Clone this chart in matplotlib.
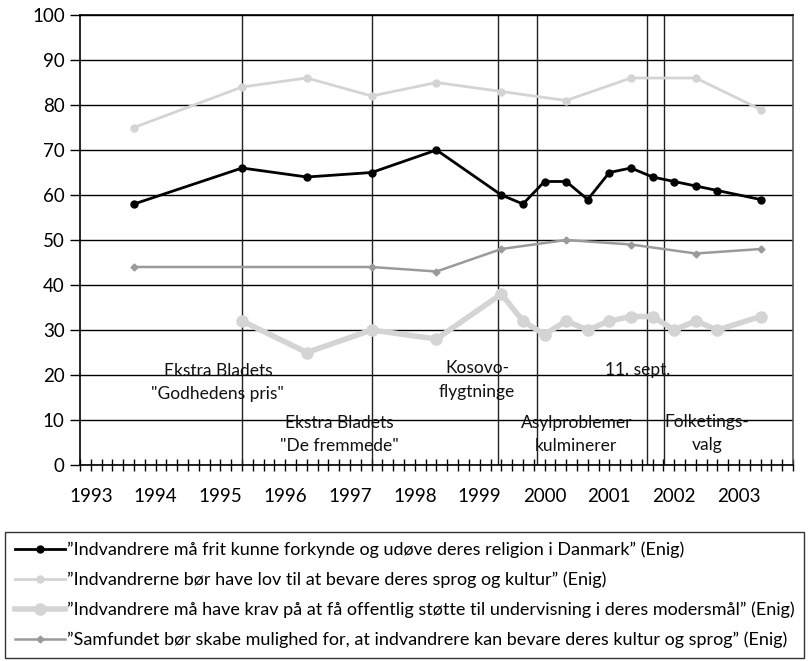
import matplotlib
matplotlib.use("Agg")
import matplotlib.pyplot as plt
from matplotlib import font_manager as fm
import numpy as np

# ---------------- data ----------------
# x positions are given in thirds of a year after 1993 (4-month periods)
rel_k = [2, 7, 10, 13, 16, 19, 20, 21, 22, 23, 24, 25, 26, 27, 28, 29, 31]
rel_v = [58, 66, 64, 65, 70, 60, 58, 63, 63, 59, 65, 66, 64, 63, 62, 61, 59]

sprog_k = [2, 7, 10, 13, 16, 19, 22, 25, 28, 31]
sprog_v = [75, 84, 86, 82, 85, 83, 81, 86, 86, 79]

moders_k = [7, 10, 13, 16, 19, 20, 21, 22, 23, 24, 25, 26, 27, 28, 29, 31]
moders_v = [32, 25, 30, 28, 38, 32, 29, 32, 30, 32, 33, 33, 30, 32, 30, 33]

samf_k = [2, 13, 16, 19, 22, 25, 28, 31]
samf_v = [44, 44, 43, 48, 50, 49, 47, 48]

labels = [
    "”Indvandrere må frit kunne forkynde og udøve deres religion i Danmark” (Enig)",
    "”Indvandrerne bør have lov til at bevare deres sprog og kultur” (Enig)",
    "”Indvandrere må have krav på at få offentlig støtte til undervisning i deres modersmål” (Enig)",
    "”Samfundet bør skabe mulighed for, at indvandrere kan bevare deres kultur og sprog” (Enig)",
]

events = [1995.333, 1997.333, 1999.28, 1999.89, 2001.58, 2001.84]
event_texts = ['Ekstra Bladets\n"Godhedens pris"', 'Ekstra Bladets\n"De fremmede"',
               'Kosovo-\nflygtninge', 'Asylproblemer\nkulminerer', '11. sept.',
               'Folketings-\nvalg']
event_text_x = [1994.96, 1996.84, 1998.96, 2000.49, 2001.44, 2002.51]
event_text_y = [18.4, 6.8, 18.9, 6.8, 21.0, 7.0]

years = list(range(1993, 2004))

def kx(ks):
    return [1993 + k / 3 for k in ks]

# ---------------- fonts ----------------
avail = {f.name for f in fm.fontManager.ttflist}
main_font = "Lato" if "Lato" in avail else "DejaVu Sans"
plt.rcParams['font.family'] = [main_font, 'DejaVu Sans']

fig = plt.figure(figsize=(8.11, 6.61), dpi=100)
ax = fig.add_axes([80 / 811, 1 - 465 / 661, (793 - 80) / 811, (465 - 15) / 661])

xmin = 1993 - 1 / 6
xmax = 1993 + 65 / 6
ax.set_xlim(xmin, xmax)
ax.set_ylim(0, 100)

# grid
ax.set_yticks(np.arange(0, 101, 10))
ax.yaxis.grid(True, color='black', lw=1.0, zorder=0)
ax.set_axisbelow(True)

for e in events:
    ax.axvline(e, color='#222222', lw=1.0, zorder=1)

# series
l1, = ax.plot(kx(rel_k), rel_v, color='black', lw=2.0, marker='o', ms=5, zorder=5)
l2, = ax.plot(kx(sprog_k), sprog_v, color='#d4d4d4', lw=2.0, marker='o', ms=5, zorder=4)
l3, = ax.plot(kx(moders_k), moders_v, color='#d4d4d4', lw=4.0, marker='o', ms=8, zorder=4)
l4, = ax.plot(kx(samf_k), samf_v, color='#9a9a9a', lw=1.8, marker='D', ms=3.5, zorder=4)

# event texts
for t, x, y in zip(event_texts, event_text_x, event_text_y):
    ax.text(x, y, t, ha='center', va='center', fontsize=12.5, linespacing=1.55,
            color='#111111', zorder=6)

# x ticks
ax.set_xticks(years)
ax.set_xticklabels([str(y) for y in years])
ax.set_xticks([xmin + i / 6 for i in range(67)], minor=True)
ax.tick_params(axis='x', which='both', direction='inout', length=9, width=1,
               color='black', labelsize=13.5, pad=12)
ax.tick_params(axis='y', which='both', direction='out', length=7, width=1,
               color='black', labelsize=13.5, pad=4)

for s in ['left', 'bottom', 'top']:
    ax.spines[s].set_color('black')
    ax.spines[s].set_linewidth(1.2)
ax.spines['right'].set_color('#555555')
ax.spines['right'].set_linewidth(1.2)

# legend
leg = fig.legend([l1, l2, l3, l4], labels, loc='upper left',
                 bbox_to_anchor=(5 / 811, 1 - 532 / 661),
                 frameon=True, fancybox=False, handlelength=2.75, handletextpad=0.12,
                 borderaxespad=0, borderpad=0.55, labelspacing=0.74,
                 prop={'family': [main_font, 'DejaVu Sans'], 'size': 13.0})
leg.get_frame().set_edgecolor('black')
leg.get_frame().set_linewidth(1.0)

fig.savefig("out.png", dpi=100)
